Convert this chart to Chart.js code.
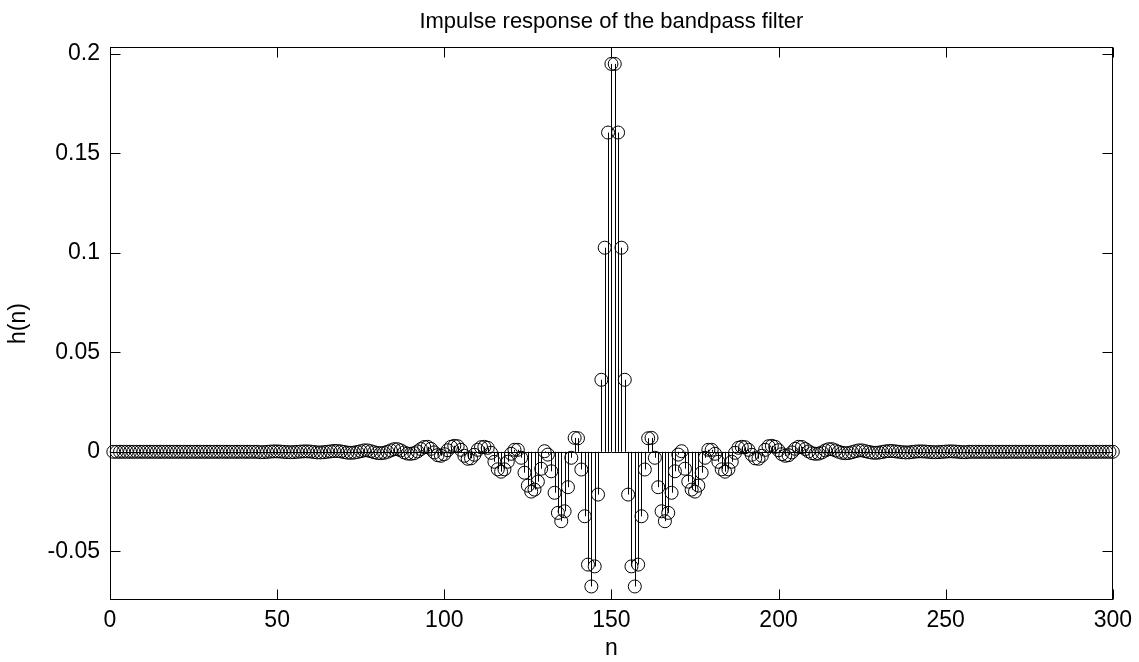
<!DOCTYPE html>
<html><head><meta charset="utf-8">
<script src="https://cdn.jsdelivr.net/npm/chart.js@4.4.1/dist/chart.umd.min.js"></script>
<style>html,body{margin:0;padding:0;background:#fff;}#wrap{width:1139px;height:662px;}</style>
</head><body><div id="wrap"><canvas id="c" width="1139" height="662"></canvas></div>
<script>
const titleText = 'Impulse response of the bandpass filter';
const xLabel = 'n';
const yLabel = 'h(n)';
const xTicks = [0, 50, 100, 150, 200, 250, 300];
const yTicks = [-0.05, 0, 0.05, 0.1, 0.15, 0.2];
const yTickLabels = ['-0.05', '0', '0.05', '0.1', '0.15', '0.2'];
const xRange = [0, 300];
const yRange = [-0.0745, 0.2035];

// h(n) for n = 1..150
const hLeft = [
 0,0,0,0,0,0,0,0,0,0, 0,0,0,0,0,0,0,0,0,0, 0,0,0,0,0,0,0,0,0,0, 0,0,0,0,0,0,0,0,0,0, 0,0,0,0,
 -0.0002,-0.00015,-0.00003,0.0001,0.0002,0.0002,0.0001,-0.00003,-0.00015,-0.0002,
 -0.00015,-0.00003,0.0001,0.0002,0.0002,0.0001,-0.0001,-0.0003,-0.0003,-0.0002,
 0,0.0002,0.0004,0.0004,0.0002,-0.0001,-0.0004,-0.0005,-0.0004,-0.0001,
 0.0003,0.0007,0.0007,0.0003,-0.0002,-0.0006,-0.0007,-0.0005,0,0.0007,
 0.0013,0.0013,0.0007,-0.0003,-0.0009,-0.0010,-0.0007,0.0002,0.0014,0.0024,
 0.0025,0.0015,-0.0003,-0.0017,-0.0020,-0.0012,0.0008,0.0025,0.0030,0.0028,
 0.0010,-0.0020,-0.0035,-0.0033,-0.0015,0.0010,0.0023,0.0025,0.0020,-0.0005,
 -0.0050,-0.0088,-0.0100,-0.0088,-0.0050,-0.0010,0.0010,0.0010,-0.0030,-0.0105,
 -0.0170,-0.0200,-0.0190,-0.0150,-0.0085,0.0003,-0.0014,-0.0098,-0.0206,-0.0307,
 -0.0349,-0.0299,-0.0178,-0.0030,0.0070,0.0068,-0.0089,-0.0324,-0.0567,-0.0677,
 -0.0576,-0.0215,0.0362,0.1026,0.1605,0.1950
];
// h(n) for n = 151..300
const hRight = [
 0.1950,0.1605,0.1026,0.0362,-0.0215,-0.0576,
 -0.0677,-0.0567,-0.0324,-0.0089,0.0068,0.0070,-0.0030,-0.0178,-0.0299,-0.0349,
 -0.0307,-0.0206,-0.0098,-0.0014,0.0003,-0.0085,-0.0150,-0.0190,-0.0200,-0.0170,
 -0.0105,-0.0030,0.0010,0.0010,-0.0010,-0.0050,-0.0088,-0.0100,-0.0088,-0.0050,
 -0.0005,0.0020,0.0025,0.0023,0.0010,-0.0015,-0.0033,-0.0035,-0.0020,0.0010,
 0.0028,0.0030,0.0025,0.0008,-0.0012,-0.0020,-0.0017,-0.0003,0.0015,0.0025,
 0.0024,0.0014,0.0002,-0.0007,-0.0010,-0.0009,-0.0003,0.0007,0.0013,0.0013,
 0.0007,0,-0.0005,-0.0007,-0.0006,-0.0002,0.0003,0.0007,0.0007,0.0003,
 -0.0001,-0.0004,-0.0005,-0.0004,-0.0001,0.0002,0.0004,0.0004,0.0002,0,
 -0.0002,-0.0003,-0.0003,-0.0001,0.0001,0.0002,0.0002,0.0001,-0.00003,-0.00015,
 -0.0002,-0.00015,-0.00003,0.0001,0.0002,0.0002,0.0001,-0.00003,-0.00015,-0.0002,
 0,0,0,0,0,0,0,0,0,0, 0,0,0,0,0,0,0,0,0,0, 0,0,0,0,0,0,0,0,0,0, 0,0,0,0,0,0,0,0,0,0, 0,0,0,0
];
const hValues = hLeft.concat(hRight);
const nValues = hValues.map((_, i) => i + 1);

const FONT = "'Liberation Sans', Arial, Helvetica, sans-serif";
const TICK_FONT = { family: FONT, size: 23, weight: 'normal' };

const stemPlugin = {
  id: 'stems',
  beforeDatasetsDraw(chart) {
    const { ctx, scales: { x, y }, chartArea } = chart;
    const y0 = y.getPixelForValue(0);
    ctx.save();
    ctx.strokeStyle = '#000';
    ctx.lineWidth = 1;
    ctx.beginPath();
    nValues.forEach((n, i) => {
      const px = Math.round(x.getPixelForValue(n)) + 0.5;
      ctx.moveTo(px, y0);
      ctx.lineTo(px, y.getPixelForValue(hValues[i]));
    });
    ctx.stroke();
    ctx.beginPath();
    ctx.moveTo(chartArea.left, Math.round(y0) + 0.5);
    ctx.lineTo(chartArea.right, Math.round(y0) + 0.5);
    ctx.stroke();
    ctx.restore();
  },
  afterDraw(chart) {
    const { ctx, scales: { x, y }, chartArea: a } = chart;
    ctx.save();
    ctx.strokeStyle = '#000';
    ctx.lineWidth = 1;
    const L = Math.round(a.left) + 0.5, R = Math.round(a.right) - 0.5;
    const T = Math.round(a.top) + 0.5, B = Math.round(a.bottom) - 0.5;
    ctx.strokeRect(L, T, R - L, B - T);
    ctx.beginPath();
    const tl = 10;
    xTicks.forEach(v => {
      const px = Math.round(x.getPixelForValue(v)) + 0.5;
      ctx.moveTo(px, B); ctx.lineTo(px, B - tl);
      ctx.moveTo(px, T); ctx.lineTo(px, T + tl);
    });
    yTicks.forEach(v => {
      const py = Math.round(y.getPixelForValue(v)) + 0.5;
      ctx.moveTo(L, py); ctx.lineTo(L + tl, py);
      ctx.moveTo(R, py); ctx.lineTo(R - tl, py);
    });
    ctx.stroke();
    ctx.restore();
  }
};

new Chart(document.getElementById('c'), {
  type: 'scatter',
  data: {
    datasets: [{
      data: nValues.map((n, i) => ({ x: n, y: hValues[i] })),
      showLine: false,
      pointRadius: 6.5,
      pointHoverRadius: 6.5,
      pointBorderWidth: 1,
      pointBorderColor: '#000',
      pointBackgroundColor: 'rgba(0,0,0,0)',
      clip: false
    }]
  },
  options: {
    responsive: false,
    animation: false,
    devicePixelRatio: 1,
    events: [],
    layout: { padding: { top: 0, left: 0, right: 26, bottom: 0 } },
    plugins: {
      legend: { display: false },
      tooltip: { enabled: false },
      title: {
        display: true,
        fullSize: false,
        text: titleText,
        color: '#000',
        font: { family: FONT, size: 22, weight: 'normal' },
        padding: { top: 9, bottom: 11.6 }
      }
    },
    scales: {
      x: {
        type: 'linear',
        min: xRange[0], max: xRange[1],
        afterBuildTicks: s => { s.ticks = xTicks.map(v => ({ value: v })); },
        afterFit: s => { s.height = 62; },
        grid: { display: false, drawTicks: false },
        border: { display: false },
        ticks: { color: '#000', font: TICK_FONT, padding: 7, maxRotation: 0, autoSkip: false,
                 callback: (v, i) => String(xTicks[i]) },
        title: { display: true, text: xLabel, color: '#000', font: TICK_FONT, padding: { top: 0, bottom: 0 } }
      },
      y: {
        type: 'linear',
        min: yRange[0], max: yRange[1],
        afterBuildTicks: s => { s.ticks = yTicks.map(v => ({ value: v })); },
        afterFit: s => { s.width = 110; },
        grid: { display: false, drawTicks: false },
        border: { display: false },
        ticks: { color: '#000', font: TICK_FONT, padding: 10, autoSkip: false,
                 callback: (v, i) => yTickLabels[i] },
        title: { display: true, text: yLabel, color: '#000', font: TICK_FONT, padding: { top: 5, bottom: 0 } }
      }
    }
  },
  plugins: [stemPlugin]
});
</script>
</body></html>
